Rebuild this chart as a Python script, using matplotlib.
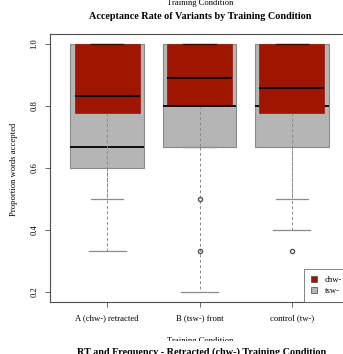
import matplotlib
matplotlib.use("Agg")
import matplotlib.pyplot as plt
from matplotlib.patches import Patch
from matplotlib.transforms import Bbox, TransformedBbox

plt.rcParams['font.family'] = ['Liberation Serif', 'DejaVu Serif']

categories = ["A (chw-) retracted", "B (tsw-) front", "control (tw-)"]
series = ["chw-", "tsw-"]

# tsw- (gray) box statistics
tsw_q1 = [0.600, 0.667, 0.667]
tsw_med = [0.667, 0.800, 0.800]
tsw_q3 = [1.0, 1.0, 1.0]
tsw_lo = [0.333, 0.200, 0.400]
tsw_hi = [1.0, 1.0, 1.0]
tsw_fliers = [[], [], []]

# chw- (red) box statistics
chw_q1 = [0.778, 0.800, 0.778]
chw_med = [0.833, 0.889, 0.857]
chw_q3 = [1.0, 1.0, 1.0]
chw_lo = [0.500, 0.667, 0.500]
chw_hi = [1.0, 1.0, 1.0]
chw_fliers = [[], [0.5, 0.333], [0.333]]

yticks = [0.2, 0.4, 0.6, 0.8, 1.0]

RED = '#9e1600'
GRAY = '#b5b5b5'
EDGE = '#8a8a8a'
AX = '#4d4d4d'

W, H = 343, 354
fig = plt.figure(figsize=(W / 100, H / 100), dpi=100)
ax = fig.add_axes([50 / W, 52 / H, (349 - 50) / W, (302 - 34) / H])

def stats(q1, med, q3, lo, hi, fl):
    return [dict(q1=a, med=b, q3=c, whislo=d, whishi=e, fliers=f)
            for a, b, c, d, e, f in zip(q1, med, q3, lo, hi, fl)]

pos = [1, 2, 3]
g = ax.bxp(stats(tsw_q1, tsw_med, tsw_q3, tsw_lo, tsw_hi, tsw_fliers),
           positions=pos, widths=0.8, patch_artist=True, manage_ticks=False, zorder=2,
           boxprops=dict(facecolor=GRAY, edgecolor=EDGE, linewidth=0.8),
           medianprops=dict(color='black', linewidth=1.3),
           whiskerprops=dict(color=EDGE, linewidth=0.7, linestyle=(0, (3, 2.5))),
           capprops=dict(color=EDGE, linewidth=0.9),
           flierprops=dict(marker='o', markerfacecolor='none', markeredgecolor=EDGE,
                           markersize=3, markeredgewidth=0.8))
r = ax.bxp(stats(chw_q1, chw_med, chw_q3, chw_lo, chw_hi, chw_fliers),
           positions=pos, widths=0.7, patch_artist=True, manage_ticks=False, zorder=4,
           boxprops=dict(facecolor=RED, edgecolor=RED, linewidth=0.5),
           medianprops=dict(color='black', linewidth=1.3),
           whiskerprops=dict(color=EDGE, linewidth=0.7, linestyle=(0, (3, 2.5))),
           capprops=dict(color=EDGE, linewidth=0.9),
           flierprops=dict(marker='o', markerfacecolor='none', markeredgecolor='#555555',
                           markersize=3, markeredgewidth=1.0))
# red box bottom edge in B coincides with gray median line
g['medians'][1].set_zorder(6)
# top cap of the red boxes appears dark
for cap in r['caps'][1::2]:
    cap.set_color('#3a0a00')

ax.set_xlim(0.38, 3.62)
ax.set_ylim(0.168, 1.032)
ax.set_xticks(pos)
ax.set_xticklabels(categories, fontsize=6.2)
ax.set_yticks(yticks)
ax.set_yticklabels([f"{v:.1f}" for v in yticks], fontsize=6.2, rotation=90, va='center')
ax.tick_params(axis='both', direction='out', length=3.6, width=0.6, color=AX)
ax.tick_params(axis='x', pad=5.5)
ax.tick_params(axis='y', pad=4.5)
for s in ax.spines.values():
    s.set_color(AX)
    s.set_linewidth(0.8)

handles = [Patch(facecolor=RED, edgecolor='#444444', linewidth=0.5),
           Patch(facecolor=GRAY, edgecolor='#444444', linewidth=0.5)]
leg = ax.legend(handles, series, loc='lower right', borderaxespad=0, fontsize=6.2,
                handlelength=0.75, handleheight=0.75, handletextpad=0.9,
                borderpad=0.8, labelspacing=0.35, fancybox=False)
leg.get_frame().set_edgecolor(AX)
leg.get_frame().set_linewidth(0.6)
leg.set_zorder(10)

fig.text(14 / W, 1 - 169 / H, "Proportion words accepted", rotation=90,
         ha='center', va='center', fontsize=6.2)
fig.text(200 / W, 1 - 5 / H, "Training Condition", ha='center', va='baseline', fontsize=6.2)
fig.text(200 / W, 1 - 19 / H, "Acceptance Rate of Variants by Training Condition",
         ha='center', va='baseline', fontsize=7.3, fontweight='bold')
t = fig.text(200 / W, 1 - 343 / H, "Training Condition", ha='center', va='baseline', fontsize=6.2)
t.set_clip_box(TransformedBbox(Bbox([[0, 13 / H], [1, 1]]), fig.transFigure))
t.set_clip_on(True)
fig.text(202 / W, 1 - 355 / H, "RT and Frequency - Retracted (chw-) Training Condition",
         ha='center', va='baseline', fontsize=7.3, fontweight='bold')

fig.savefig("out.png", dpi=100)
